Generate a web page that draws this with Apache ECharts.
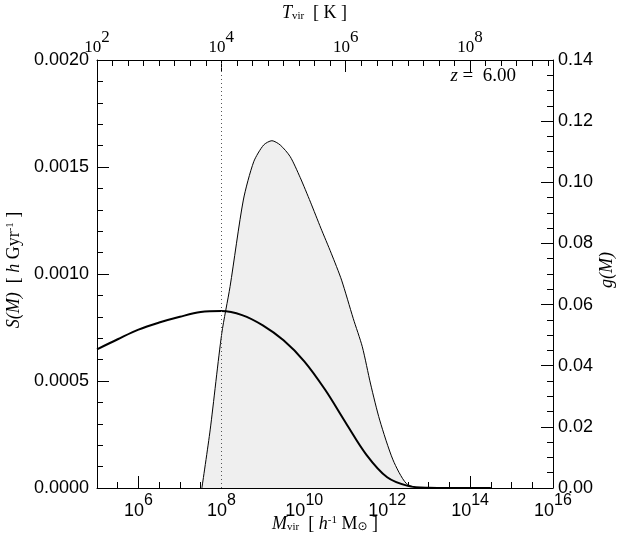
<!DOCTYPE html>
<html><head><meta charset="utf-8">
<script src="https://cdn.jsdelivr.net/npm/echarts@6/dist/echarts.min.js"></script>
<style>html,body{margin:0;padding:0;background:#fff}#c{width:629px;height:550px}</style>
</head><body><div id="c"></div>
<script>
// ---- data ----
const massTickExponents = [6, 8, 10, 12, 14, 16];      // bottom axis labels 10^n (M_vir)
const tempTickExponents = [2, 4, 6, 8];                // top axis labels 10^n (T_vir)
const leftTicks = ['0.0000', '0.0005', '0.0010', '0.0015', '0.0020'];
const rightTicks = ['0.00', '0.02', '0.04', '0.06', '0.08', '0.10', '0.12', '0.14'];

// S(M) thick curve (left axis), x = log10 M
const sLogMass = [5.0, 5.5, 6.0, 6.5, 7.0, 7.5, 8.0, 8.5, 9.0, 9.5, 10.0, 10.5, 11.0, 11.5, 12.0, 12.5, 13.0, 13.5, 14.0, 14.5];
const sValues  = [0.000648, 0.000695, 0.000740, 0.000773, 0.000800, 0.000822, 0.000827, 0.000808, 0.000760, 0.000690, 0.000592, 0.000460, 0.000305, 0.000155, 0.000050, 0.000010, 0.000001, 0, 0, 0];

// g(M) shaded curve (right axis), x = log10 M
const gLogMass = [7.53, 7.73, 8.01, 8.21, 8.53, 8.78, 9.02, 9.22, 9.42, 9.66, 9.90, 10.15, 10.40, 10.65, 10.90, 11.18, 11.40, 11.60, 11.82, 12.14, 12.46, 12.80, 13.5, 14.5];
const gValues  = [0, 0.0190, 0.0506, 0.0659, 0.0942, 0.1067, 0.1122, 0.1136, 0.1122, 0.1084, 0.1016, 0.0935, 0.0850, 0.0768, 0.0680, 0.0555, 0.0462, 0.0340, 0.0222, 0.0092, 0.0015, 0, 0, 0];

const cutoffLogMass = 8;       // dotted vertical line
const redshiftValue = '6.00';
// T_vir ∝ M^(2/3): T = 10^2 K at M = 10^5
const massMin = 5, massMax = 16;
const tempMin = 2, tempMax = 2 + (massMax - massMin) * 2 / 3;

// ---- chart ----
const chart = echarts.init(document.getElementById('c'), null, {renderer: 'canvas'});
const black = '#000';
const sans = 'Liberation Sans';
const serif = 'Liberation Serif';

function pairs(xs, ys) { return xs.map((x, i) => [x, ys[i]]); }

const option = {
  animation: false,
  backgroundColor: '#fff',
  grid: {left: 97, right: 76, top: 60, bottom: 62},
  xAxis: [
    { // bottom major
      type: 'value', position: 'bottom', min: massMin, max: massMax,
      axisLine: {show: true, onZero: false, lineStyle: {color: black, width: 1}},
      axisTick: {show: true, inside: true, length: 12, lineStyle: {color: black}, customValues: massTickExponents},
      axisLabel: {
        show: true, margin: 5, customValues: massTickExponents,
        formatter: v => '{b|10}{s|' + Math.round(v) + '}',
        rich: {
          b: {fontFamily: sans, fontSize: 18, color: black, verticalAlign: 'bottom', lineHeight: 27},
          s: {fontFamily: sans, fontSize: 16, color: black, verticalAlign: 'top', lineHeight: 16}
        }
      },
      splitLine: {show: false}
    },
    { // bottom minor ticks
      type: 'value', position: 'bottom', min: massMin, max: massMax, interval: 0.5,
      axisLine: {show: false, onZero: false},
      axisTick: {show: true, inside: true, length: 6, lineStyle: {color: black}},
      axisLabel: {show: false}, splitLine: {show: false}
    },
    { // top major (T_vir)
      type: 'value', position: 'top', min: tempMin, max: tempMax,
      axisLine: {show: true, onZero: false, lineStyle: {color: black, width: 1}},
      axisTick: {show: true, inside: true, length: 12, lineStyle: {color: black}, customValues: tempTickExponents},
      axisLabel: {
        show: true, margin: 4, customValues: tempTickExponents,
        formatter: v => '{b|10}{s|' + Math.round(v) + '}',
        rich: {
          b: {fontFamily: serif, fontSize: 17, color: black, verticalAlign: 'bottom', lineHeight: 27},
          s: {fontFamily: serif, fontSize: 17, color: black, verticalAlign: 'top', lineHeight: 17}
        }
      },
      splitLine: {show: false}
    },
    { // top minor ticks
      type: 'value', position: 'top', min: tempMin, max: tempMax, interval: 0.25,
      axisLine: {show: false, onZero: false},
      axisTick: {show: true, inside: true, length: 6, lineStyle: {color: black}},
      axisLabel: {show: false}, splitLine: {show: false}
    }
  ],
  yAxis: [
    {
      type: 'value', position: 'left', min: 0, max: 0.002, interval: 0.0005,
      axisLine: {show: true, onZero: false, lineStyle: {color: black, width: 1}},
      axisTick: {show: true, inside: true, length: 12, lineStyle: {color: black}},
      minorTick: {show: true, splitNumber: 5, length: 6, lineStyle: {color: black}},
      axisLabel: {show: true, margin: 8, fontFamily: sans, fontSize: 18, color: black,
                  formatter: (v) => leftTicks[Math.round(v / 0.0005)]},
      splitLine: {show: false}
    },
    {
      type: 'value', position: 'right', min: 0, max: 0.14, interval: 0.02,
      axisLine: {show: true, onZero: false, lineStyle: {color: black, width: 1}},
      axisTick: {show: true, inside: true, length: 12, lineStyle: {color: black}},
      minorTick: {show: true, splitNumber: 4, length: 6, lineStyle: {color: black}},
      axisLabel: {show: true, margin: 5, fontFamily: sans, fontSize: 18, color: black,
                  formatter: (v) => rightTicks[Math.round(v / 0.02)]},
      splitLine: {show: false}
    }
  ],
  series: [
    {
      name: 'g(M)', type: 'line', xAxisIndex: 0, yAxisIndex: 1,
      data: pairs(gLogMass, gValues),
      symbol: 'none', smooth: 0.25,
      lineStyle: {color: black, width: 1},
      areaStyle: {color: '#efefef', opacity: 1},
      z: 2,
      markLine: {
        silent: true, symbol: ['none', 'none'], label: {show: false},
        lineStyle: {type: [1, 3], color: '#555', width: 1},
        data: [{xAxis: cutoffLogMass}]
      }
    },
    {
      name: 'S(M)', type: 'line', xAxisIndex: 0, yAxisIndex: 0,
      data: pairs(sLogMass, sValues),
      symbol: 'none', smooth: 0.35,
      lineStyle: {color: black, width: 2},
      z: 3
    }
  ],
  graphic: [
    {
      type: 'text', left: 'center', top: 4, z: 10,
      style: {
        text: '{i|T}{sub|vir}  [ K ]',
        rich: {
          i: {fontFamily: serif, fontStyle: 'italic', fontSize: 18, color: black},
          sub: {fontFamily: serif, fontSize: 11, color: black, verticalAlign: 'bottom'}
        },
        fontFamily: serif, fontSize: 18, fill: black
      }
    },
    {
      type: 'text', x: 325, y: 515, z: 10,
      style: {
        text: '{i|M}{sub|vir}  [ {i|h}{sup|-1} M{r|⊙} ]',
        rich: {
          i: {fontFamily: serif, fontStyle: 'italic', fontSize: 18, color: black},
          sub: {fontFamily: serif, fontSize: 11, color: black, verticalAlign: 'bottom'},
          sup: {fontFamily: serif, fontSize: 11, color: black, verticalAlign: 'top'},
          r: {fontFamily: 'DejaVu Sans', fontSize: 12, color: black, verticalAlign: 'bottom'}
        },
        fontFamily: serif, fontSize: 18, fill: black, align: 'center', verticalAlign: 'top'
      }
    },
    {
      type: 'text', x: 14, y: 270, rotation: Math.PI / 2, z: 10,
      style: {
        text: '{i|S(M)}  [ {i|h} Gyr{sup|-1} ]',
        rich: {
          i: {fontFamily: serif, fontStyle: 'italic', fontSize: 18, color: black},
          sup: {fontFamily: serif, fontSize: 11, color: black, verticalAlign: 'top'}
        },
        fontFamily: serif, fontSize: 18, fill: black, align: 'center', verticalAlign: 'middle'
      }
    },
    {
      type: 'text', x: 607, y: 270, rotation: Math.PI / 2, z: 10,
      style: {
        text: '{i|g(M)}',
        rich: {i: {fontFamily: serif, fontStyle: 'italic', fontSize: 18, color: black}},
        fontFamily: serif, fontSize: 18, fill: black, align: 'center', verticalAlign: 'middle'
      }
    },
    {
      type: 'text', x: 516, y: 76, z: 10,
      style: {
        text: '{i|z} =  ' + redshiftValue,
        rich: {i: {fontFamily: serif, fontStyle: 'italic', fontSize: 19, color: black}},
        fontFamily: serif, fontSize: 19, fill: black, align: 'right', verticalAlign: 'middle'
      }
    }
  ]
};
chart.setOption(option);
</script>
</body></html>
